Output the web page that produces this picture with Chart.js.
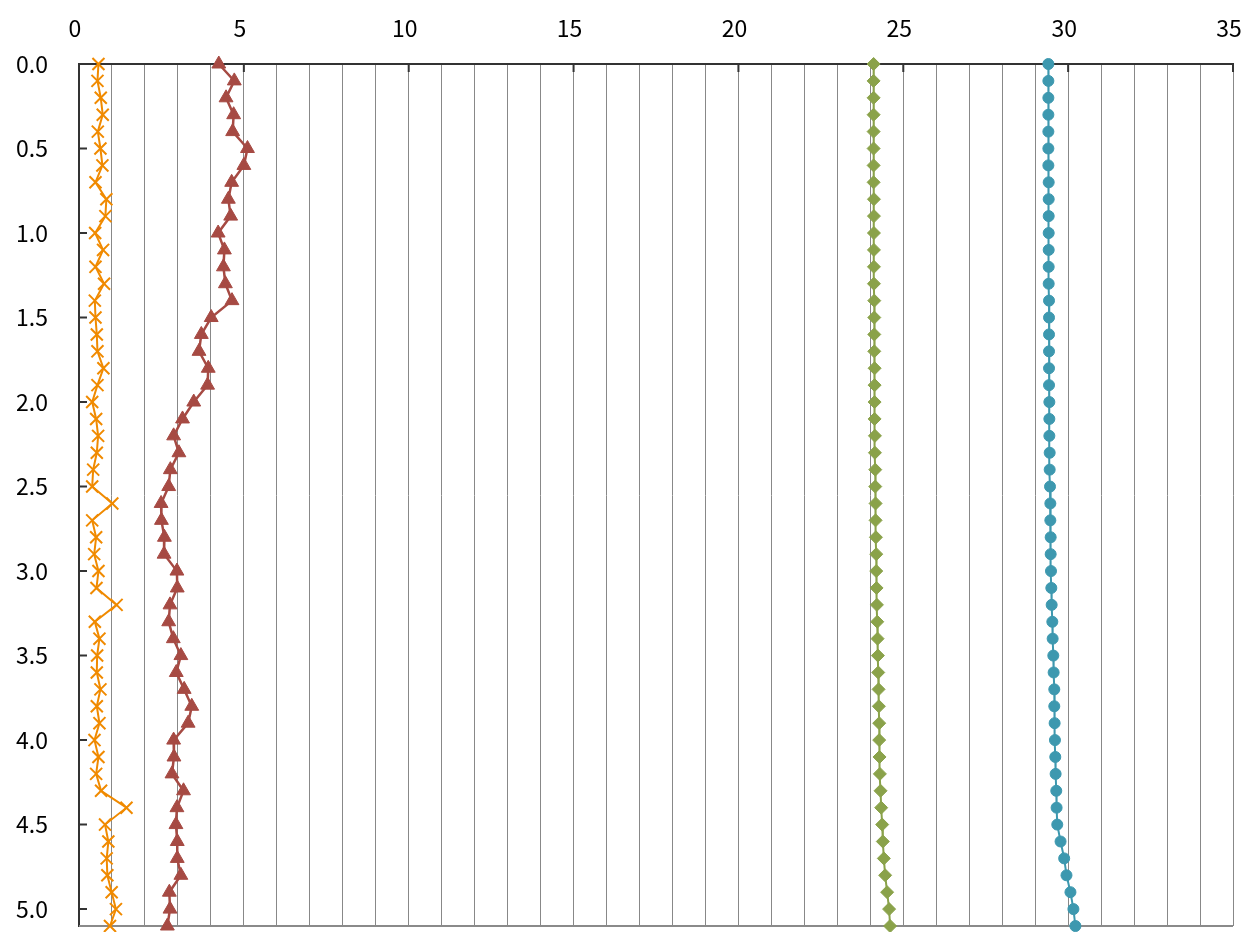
<!DOCTYPE html>
<html>
<head>
    <meta charset="UTF-8">
    <title>Depth profile</title>
    <script src="https://cdn.jsdelivr.net/npm/chart.js"></script>
    <style>
        body {
            margin: 0;
            padding: 0;
            background-color: #fff;
        }
        .chart-container {
            position: relative;
            width: 1255px;
            height: 932px;
        }
    </style>
</head>
<body>
    <div class="chart-container">
        <canvas id="profileChart" width="1255" height="932"></canvas>
    </div>

    <script>
        // depth (y axis, reversed)
        const depths = [0.0, 0.1, 0.2, 0.3, 0.4, 0.5, 0.6, 0.7, 0.8, 0.9,
                        1.0, 1.1, 1.2, 1.3, 1.4, 1.5, 1.6, 1.7, 1.8, 1.9,
                        2.0, 2.1, 2.2, 2.3, 2.4, 2.5, 2.6, 2.7, 2.8, 2.9,
                        3.0, 3.1, 3.2, 3.3, 3.4, 3.5, 3.6, 3.7, 3.8, 3.9,
                        4.0, 4.1, 4.2, 4.3, 4.4, 4.5, 4.6, 4.7, 4.8, 4.9,
                        5.0, 5.1];

        // series values read along the depth
        const orangeValues = [0.59, 0.56, 0.66, 0.72, 0.57, 0.65, 0.71, 0.50, 0.83, 0.80,
                              0.49, 0.73, 0.50, 0.76, 0.48, 0.50, 0.54, 0.56, 0.74, 0.56,
                              0.40, 0.52, 0.58, 0.54, 0.43, 0.40, 1.01, 0.40, 0.52, 0.46,
                              0.59, 0.53, 1.14, 0.48, 0.62, 0.55, 0.54, 0.65, 0.54, 0.62,
                              0.47, 0.59, 0.52, 0.67, 1.44, 0.79, 0.89, 0.84, 0.86, 0.99,
                              1.12, 0.94];
        const redValues = [4.24, 4.71, 4.46, 4.69, 4.66, 5.11, 5.00, 4.63, 4.53, 4.60,
                           4.22, 4.41, 4.38, 4.44, 4.64, 4.01, 3.71, 3.64, 3.92, 3.90,
                           3.48, 3.14, 2.87, 3.03, 2.77, 2.72, 2.49, 2.50, 2.59, 2.58,
                           2.97, 2.98, 2.76, 2.72, 2.86, 3.09, 2.95, 3.19, 3.42, 3.31,
                           2.87, 2.88, 2.82, 3.17, 2.97, 2.94, 2.98, 2.98, 3.09, 2.74,
                           2.76, 2.68];
        const greenValues = [24.10, 24.10, 24.10, 24.10, 24.10, 24.10, 24.10, 24.10, 24.11, 24.11,
                             24.11, 24.11, 24.11, 24.11, 24.12, 24.12, 24.12, 24.12, 24.13, 24.13,
                             24.13, 24.13, 24.14, 24.14, 24.15, 24.15, 24.16, 24.16, 24.17, 24.18,
                             24.18, 24.19, 24.20, 24.21, 24.22, 24.23, 24.24, 24.25, 24.26, 24.27,
                             24.27, 24.28, 24.29, 24.31, 24.33, 24.36, 24.38, 24.41, 24.45, 24.51,
                             24.57, 24.60];
        const blueValues = [29.40, 29.40, 29.40, 29.40, 29.40, 29.40, 29.40, 29.41, 29.41, 29.41,
                            29.41, 29.41, 29.41, 29.41, 29.42, 29.42, 29.42, 29.42, 29.42, 29.42,
                            29.43, 29.43, 29.43, 29.44, 29.44, 29.45, 29.46, 29.46, 29.47, 29.47,
                            29.48, 29.49, 29.50, 29.52, 29.53, 29.55, 29.56, 29.58, 29.58, 29.59,
                            29.60, 29.61, 29.62, 29.64, 29.65, 29.67, 29.77, 29.88, 29.95, 30.07,
                            30.16, 30.22];

        const xTicks = [0, 5, 10, 15, 20, 25, 30, 35];

        function toPoints(values) {
            return values.map((v, i) => ({ x: v, y: depths[i] }));
        }

        const FONT_FAMILY = '"Noto Sans CJK JP", "Noto Sans", sans-serif';

        // short tick marks drawn inside the plot, plus the grey bottom frame line
        const frameTicks = {
            id: 'frameTicks',
            beforeDatasetsDraw(chart) {
                const { ctx, chartArea, scales } = chart;
                ctx.save();
                ctx.strokeStyle = '#8a8a8a';
                ctx.lineWidth = 2;
                ctx.beginPath();
                ctx.moveTo(chartArea.left, chartArea.bottom);
                ctx.lineTo(chartArea.right, chartArea.bottom);
                ctx.stroke();

                ctx.strokeStyle = '#333';
                ctx.lineWidth = 2;
                ctx.beginPath();
                scales.y.ticks.forEach(t => {
                    const py = scales.y.getPixelForValue(t.value);
                    ctx.moveTo(chartArea.left, py);
                    ctx.lineTo(chartArea.left + 8, py);
                });
                xTicks.forEach(v => {
                    const px = scales.x.getPixelForValue(v);
                    ctx.moveTo(px, chartArea.top);
                    ctx.lineTo(px, chartArea.top + 8);
                });
                ctx.stroke();
                ctx.restore();
            }
        };

        const ctx = document.getElementById('profileChart').getContext('2d');
        new Chart(ctx, {
            type: 'scatter',
            data: {
                datasets: [
                    {
                        data: toPoints(orangeValues),
                        showLine: true,
                        clip: false,
                        borderColor: '#F08A00',
                        backgroundColor: '#F08A00',
                        borderWidth: 2,
                        pointStyle: 'crossRot',
                        pointRadius: 8.5,
                        pointBorderWidth: 2
                    },
                    {
                        data: toPoints(redValues),
                        showLine: true,
                        clip: false,
                        borderColor: '#A64A43',
                        backgroundColor: '#A64A43',
                        borderWidth: 2.5,
                        pointStyle: 'triangle',
                        pointRadius: 8,
                        pointBorderWidth: 1
                    },
                    {
                        data: toPoints(greenValues),
                        showLine: true,
                        clip: false,
                        borderColor: '#8AA24A',
                        backgroundColor: '#8AA24A',
                        borderWidth: 2,
                        pointStyle: 'rectRot',
                        pointRadius: 6.5,
                        pointBorderWidth: 1
                    },
                    {
                        data: toPoints(blueValues),
                        showLine: true,
                        clip: false,
                        borderColor: '#3D98AF',
                        backgroundColor: '#3D98AF',
                        borderWidth: 2,
                        pointStyle: 'circle',
                        pointRadius: 5.5,
                        pointBorderWidth: 1
                    }
                ]
            },
            options: {
                responsive: false,
                maintainAspectRatio: false,
                animation: false,
                events: [],
                layout: { autoPadding: false, padding: { top: 0, right: 22, bottom: 6, left: 0 } },
                plugins: {
                    legend: { display: false },
                    tooltip: { enabled: false }
                },
                scales: {
                    x: {
                        type: 'linear',
                        position: 'top',
                        min: 0,
                        max: 35,
                        afterFit(scale) { scale.height = 64; },
                        ticks: {
                            stepSize: 1,
                            autoSkip: false,
                            maxRotation: 0,
                            padding: 0,
                            labelOffset: -4,
                            color: '#000',
                            font: { family: FONT_FAMILY, size: 23 },
                            callback: v => (xTicks.includes(v) ? String(v) : '')
                        },
                        grid: {
                            color: '#888',
                            lineWidth: 1,
                            drawTicks: true,
                            tickLength: 22,
                            tickColor: 'rgba(0,0,0,0)'
                        },
                        border: { color: '#333', width: 2 }
                    },
                    y: {
                        type: 'linear',
                        reverse: true,
                        min: 0,
                        max: 5.1,
                        afterFit(scale) { scale.width = 79; },
                        ticks: {
                            stepSize: 0.5,
                            includeBounds: false,
                            padding: 0,
                            color: '#000',
                            font: { family: FONT_FAMILY, size: 23, lineHeight: 0.5 },
                            callback: v => Number(v).toFixed(1)
                        },
                        grid: {
                            drawOnChartArea: false,
                            drawTicks: true,
                            tickLength: 31,
                            tickColor: 'rgba(0,0,0,0)'
                        },
                        border: { color: '#333', width: 2 }
                    }
                }
            },
            plugins: [frameTicks]
        });
    </script>
</body>
</html>
